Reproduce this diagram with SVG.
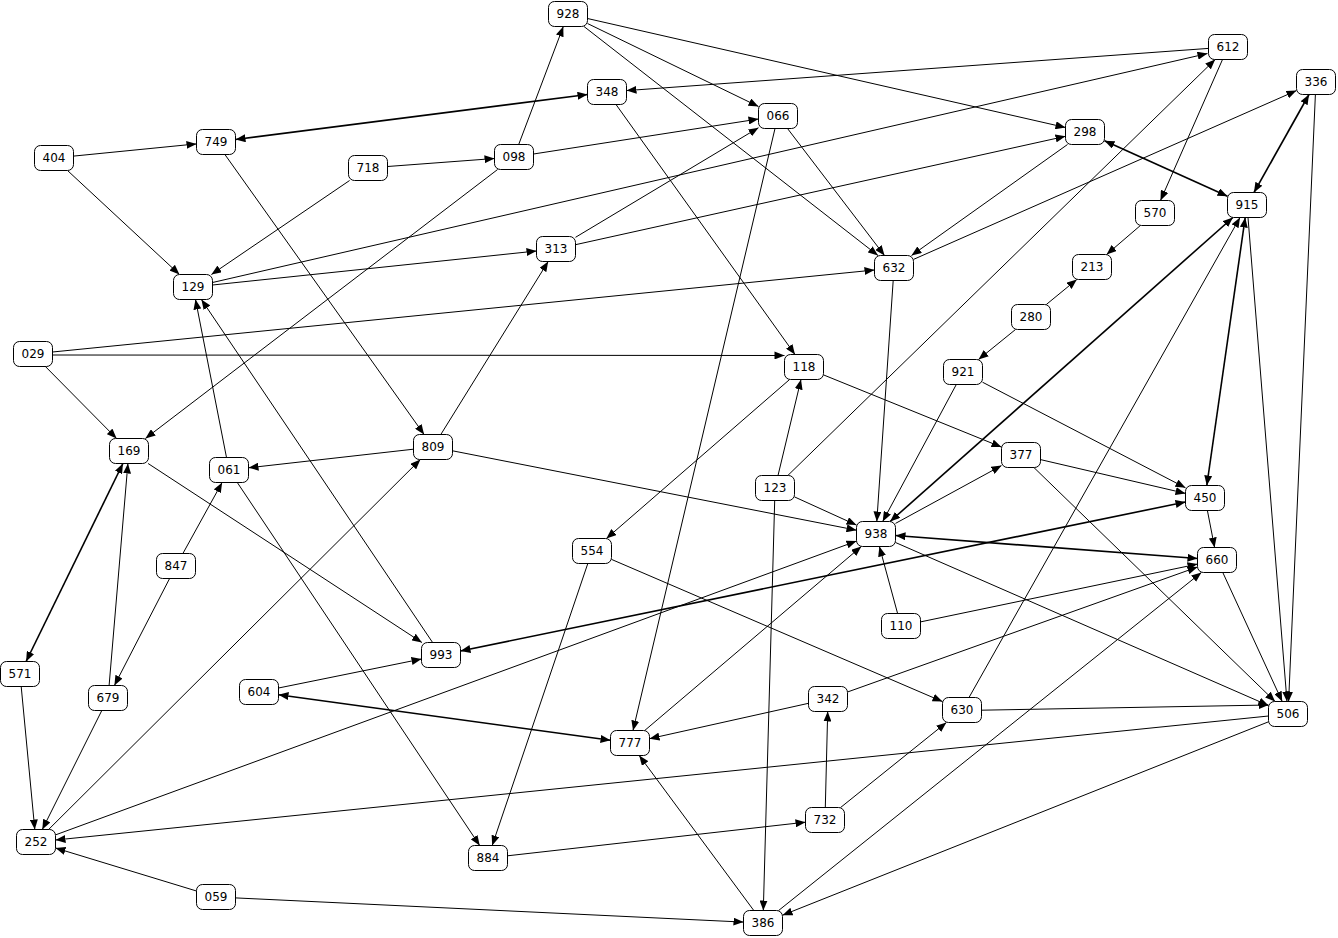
<svg xmlns="http://www.w3.org/2000/svg" width="1338" height="938" viewBox="0 0 1338 938">
<style>
.n rect{fill:#fff;stroke:#000;stroke-width:1}
.n text{font-family:"DejaVu Sans",Verdana,sans-serif;font-size:12px;fill:#000;text-anchor:middle}
.e line{stroke:#000;stroke-width:1;fill:none;marker-end:url(#ah)}
.e line.b{stroke-width:1.6;marker-start:url(#ah)}
</style>
<defs>
<marker id="ah" markerUnits="userSpaceOnUse" markerWidth="10" markerHeight="8" refX="10" refY="4" orient="auto-start-reverse" viewBox="0 0 10 8"><path d="M0,0 L10,4 L0,8 z" fill="#000"/></marker>
</defs>
<rect width="1338" height="938" fill="#fff"/>
<g id="edges" class="e">
<line x1="587.5" y1="23.5" x2="758.5" y2="106.5"/>
<line x1="587.5" y1="18.5" x2="1065.5" y2="127.5"/>
<line x1="584" y1="26.5" x2="878" y2="255.5"/>
<line x1="518.7" y1="144.5" x2="563.3" y2="26.5"/>
<line x1="1208.5" y1="48.4" x2="626.5" y2="90.6"/>
<line x1="1222.5" y1="59.5" x2="1160.5" y2="200.5"/>
<line x1="212.5" y1="282.5" x2="1207.5" y2="53.5"/>
<line x1="787.8" y1="475.5" x2="1215.2" y2="59.5"/>
<line x1="1315.4" y1="94.5" x2="1288.6" y2="701.5"/>
<line x1="913.5" y1="259.4" x2="1296.5" y2="90.6"/>
<line class="b" x1="587.5" y1="94.5" x2="235.5" y2="139.5"/>
<line x1="616" y1="104.5" x2="795" y2="354.5"/>
<line x1="787.5" y1="128.5" x2="884.5" y2="255.5"/>
<line x1="775" y1="128.5" x2="633" y2="730.5"/>
<line x1="533.5" y1="154" x2="758.5" y2="119"/>
<line x1="575.5" y1="237.3" x2="758.5" y2="127.7"/>
<line x1="1067.5" y1="144.5" x2="911.5" y2="255.5"/>
<line x1="575.5" y1="244.7" x2="1065.5" y2="136.3"/>
<line class="b" x1="1104.5" y1="140.8" x2="1227.5" y2="196.2"/>
<line x1="73.5" y1="156.1" x2="196.5" y2="143.9"/>
<line x1="67.5" y1="170.5" x2="179.5" y2="274.5"/>
<line x1="387.5" y1="166.5" x2="494.5" y2="158.5"/>
<line x1="349.6" y1="180.5" x2="211.4" y2="274.5"/>
<line x1="497.6" y1="169.5" x2="145.4" y2="438.5"/>
<line x1="224.9" y1="154.5" x2="424.1" y2="434.5"/>
<line x1="212.5" y1="285" x2="536.5" y2="251"/>
<line x1="52.5" y1="352" x2="874.5" y2="270"/>
<line x1="52.5" y1="355" x2="784.5" y2="355.5"/>
<line x1="45.4" y1="366.5" x2="116.6" y2="438.5"/>
<line x1="1140.4" y1="225.5" x2="1106.6" y2="254.5"/>
<line x1="1046.3" y1="304.5" x2="1076.8" y2="279.5"/>
<line x1="1015.5" y1="329.5" x2="978.5" y2="359.5"/>
<line class="b" x1="1254" y1="192.5" x2="1309" y2="94.5"/>
<line class="b" x1="1245.2" y1="217.5" x2="1206.8" y2="485.5"/>
<line class="b" x1="1232.9" y1="217.5" x2="890.1" y2="521.5"/>
<line x1="1248" y1="217.5" x2="1287" y2="701.5"/>
<line x1="969" y1="697.5" x2="1240" y2="217.5"/>
<line x1="893.2" y1="280.5" x2="876.8" y2="521.5"/>
<line x1="823.5" y1="374.9" x2="1001.5" y2="447.1"/>
<line x1="789.6" y1="379.5" x2="606.4" y2="538.5"/>
<line x1="778" y1="475.5" x2="801" y2="379.5"/>
<line x1="794.5" y1="496.9" x2="856.5" y2="525.1"/>
<line x1="774.7" y1="500.5" x2="763.3" y2="910.5"/>
<line x1="956.3" y1="384.5" x2="882.7" y2="521.5"/>
<line x1="982.5" y1="382.2" x2="1185.5" y2="487.8"/>
<line x1="440.8" y1="434.5" x2="548.2" y2="261.5"/>
<line x1="413.5" y1="449.2" x2="248.5" y2="467.8"/>
<line x1="452.5" y1="450.8" x2="856.5" y2="530.2"/>
<line x1="226.5" y1="457.5" x2="195.5" y2="299.5"/>
<line x1="237.3" y1="482.5" x2="479.7" y2="845.5"/>
<line x1="148.1" y1="463.5" x2="421.9" y2="642.5"/>
<line class="b" x1="122.9" y1="463.5" x2="26.1" y2="661.5"/>
<line x1="109.1" y1="685.5" x2="127.9" y2="463.5"/>
<line x1="182.9" y1="553.5" x2="222.1" y2="482.5"/>
<line x1="169.6" y1="578.5" x2="114.4" y2="685.5"/>
<line x1="432.6" y1="642.5" x2="201.4" y2="299.5"/>
<line x1="1040.5" y1="459.6" x2="1185.5" y2="493.4"/>
<line x1="1033.9" y1="467.5" x2="1275.1" y2="701.5"/>
<line x1="895.5" y1="523.4" x2="1001.5" y2="465.6"/>
<line x1="1207.4" y1="510.5" x2="1214.6" y2="547.5"/>
<line class="b" x1="460.5" y1="651" x2="1185.5" y2="502"/>
<line class="b" x1="895.5" y1="535.5" x2="1197.5" y2="558.5"/>
<line x1="895.5" y1="542.5" x2="1268.5" y2="705.5"/>
<line x1="897.6" y1="613.5" x2="879.4" y2="546.5"/>
<line x1="920.5" y1="621.9" x2="1197.5" y2="564.1"/>
<line x1="1222.8" y1="572.5" x2="1282.2" y2="701.5"/>
<line x1="587.8" y1="563.5" x2="492.2" y2="845.5"/>
<line x1="611.5" y1="559.4" x2="942.5" y2="701.6"/>
<line x1="278.5" y1="688" x2="421.5" y2="659"/>
<line class="b" x1="278.5" y1="694.7" x2="610.5" y2="740.3"/>
<line x1="847.5" y1="692" x2="1197.5" y2="567"/>
<line x1="808.5" y1="703.3" x2="649.5" y2="738.7"/>
<line x1="825.3" y1="807.5" x2="827.7" y2="711.5"/>
<line x1="840.6" y1="807.5" x2="946.4" y2="722.5"/>
<line x1="981.5" y1="710.2" x2="1268.5" y2="705"/>
<line x1="1268.5" y1="716" x2="55.5" y2="840"/>
<line x1="1268.5" y1="721.8" x2="782.5" y2="915.2"/>
<line x1="778.6" y1="910.5" x2="1201.4" y2="572.5"/>
<line x1="753.8" y1="910.5" x2="639.2" y2="755.5"/>
<line x1="644.7" y1="730.5" x2="861.3" y2="546.5"/>
<line x1="48.6" y1="829.5" x2="420.4" y2="459.5"/>
<line x1="55.5" y1="834.9" x2="856.5" y2="541.1"/>
<line x1="21.2" y1="686.5" x2="34.8" y2="829.5"/>
<line x1="101.8" y1="710.5" x2="42.3" y2="829.5"/>
<line x1="196.5" y1="891" x2="55.5" y2="848"/>
<line x1="235.5" y1="897.9" x2="743.5" y2="922.1"/>
<line x1="507.5" y1="855.8" x2="805.5" y2="822.2"/>
</g>
<g id="n928" class="n"><rect x="548.5" y="1.5" width="39" height="25" rx="6"/><text x="568" y="18">928</text></g>
<g id="n612" class="n"><rect x="1208.5" y="34.5" width="39" height="25" rx="6"/><text x="1228" y="51">612</text></g>
<g id="n336" class="n"><rect x="1296.5" y="69.5" width="39" height="25" rx="6"/><text x="1316" y="86">336</text></g>
<g id="n348" class="n"><rect x="587.5" y="79.5" width="39" height="25" rx="6"/><text x="607" y="96">348</text></g>
<g id="n066" class="n"><rect x="758.5" y="103.5" width="39" height="25" rx="6"/><text x="778" y="120">066</text></g>
<g id="n298" class="n"><rect x="1065.5" y="119.5" width="39" height="25" rx="6"/><text x="1085" y="136">298</text></g>
<g id="n749" class="n"><rect x="196.5" y="129.5" width="39" height="25" rx="6"/><text x="216" y="146">749</text></g>
<g id="n404" class="n"><rect x="34.5" y="145.5" width="39" height="25" rx="6"/><text x="54" y="162">404</text></g>
<g id="n718" class="n"><rect x="348.5" y="155.5" width="39" height="25" rx="6"/><text x="368" y="172">718</text></g>
<g id="n098" class="n"><rect x="494.5" y="144.5" width="39" height="25" rx="6"/><text x="514" y="161">098</text></g>
<g id="n915" class="n"><rect x="1227.5" y="192.5" width="39" height="25" rx="6"/><text x="1247" y="209">915</text></g>
<g id="n570" class="n"><rect x="1135.5" y="200.5" width="39" height="25" rx="6"/><text x="1155" y="217">570</text></g>
<g id="n313" class="n"><rect x="536.5" y="236.5" width="39" height="25" rx="6"/><text x="556" y="253">313</text></g>
<g id="n632" class="n"><rect x="874.5" y="255.5" width="39" height="25" rx="6"/><text x="894" y="272">632</text></g>
<g id="n213" class="n"><rect x="1072.5" y="254.5" width="39" height="25" rx="6"/><text x="1092" y="271">213</text></g>
<g id="n129" class="n"><rect x="173.5" y="274.5" width="39" height="25" rx="6"/><text x="193" y="291">129</text></g>
<g id="n280" class="n"><rect x="1011.5" y="304.5" width="39" height="25" rx="6"/><text x="1031" y="321">280</text></g>
<g id="n029" class="n"><rect x="13.5" y="341.5" width="39" height="25" rx="6"/><text x="33" y="358">029</text></g>
<g id="n118" class="n"><rect x="784.5" y="354.5" width="39" height="25" rx="6"/><text x="804" y="371">118</text></g>
<g id="n921" class="n"><rect x="943.5" y="359.5" width="39" height="25" rx="6"/><text x="963" y="376">921</text></g>
<g id="n809" class="n"><rect x="413.5" y="434.5" width="39" height="25" rx="6"/><text x="433" y="451">809</text></g>
<g id="n169" class="n"><rect x="109.5" y="438.5" width="39" height="25" rx="6"/><text x="129" y="455">169</text></g>
<g id="n061" class="n"><rect x="209.5" y="457.5" width="39" height="25" rx="6"/><text x="229" y="474">061</text></g>
<g id="n377" class="n"><rect x="1001.5" y="442.5" width="39" height="25" rx="6"/><text x="1021" y="459">377</text></g>
<g id="n123" class="n"><rect x="755.5" y="475.5" width="39" height="25" rx="6"/><text x="775" y="492">123</text></g>
<g id="n450" class="n"><rect x="1185.5" y="485.5" width="39" height="25" rx="6"/><text x="1205" y="502">450</text></g>
<g id="n938" class="n"><rect x="856.5" y="521.5" width="39" height="25" rx="6"/><text x="876" y="538">938</text></g>
<g id="n554" class="n"><rect x="572.5" y="538.5" width="39" height="25" rx="6"/><text x="592" y="555">554</text></g>
<g id="n660" class="n"><rect x="1197.5" y="547.5" width="39" height="25" rx="6"/><text x="1217" y="564">660</text></g>
<g id="n847" class="n"><rect x="156.5" y="553.5" width="39" height="25" rx="6"/><text x="176" y="570">847</text></g>
<g id="n110" class="n"><rect x="881.5" y="613.5" width="39" height="25" rx="6"/><text x="901" y="630">110</text></g>
<g id="n993" class="n"><rect x="421.5" y="642.5" width="39" height="25" rx="6"/><text x="441" y="659">993</text></g>
<g id="n571" class="n"><rect x="0.5" y="661.5" width="39" height="25" rx="6"/><text x="20" y="678">571</text></g>
<g id="n679" class="n"><rect x="88.5" y="685.5" width="39" height="25" rx="6"/><text x="108" y="702">679</text></g>
<g id="n604" class="n"><rect x="239.5" y="679.5" width="39" height="25" rx="6"/><text x="259" y="696">604</text></g>
<g id="n342" class="n"><rect x="808.5" y="686.5" width="39" height="25" rx="6"/><text x="828" y="703">342</text></g>
<g id="n630" class="n"><rect x="942.5" y="697.5" width="39" height="25" rx="6"/><text x="962" y="714">630</text></g>
<g id="n506" class="n"><rect x="1268.5" y="701.5" width="39" height="25" rx="6"/><text x="1288" y="718">506</text></g>
<g id="n777" class="n"><rect x="610.5" y="730.5" width="39" height="25" rx="6"/><text x="630" y="747">777</text></g>
<g id="n732" class="n"><rect x="805.5" y="807.5" width="39" height="25" rx="6"/><text x="825" y="824">732</text></g>
<g id="n252" class="n"><rect x="16.5" y="829.5" width="39" height="25" rx="6"/><text x="36" y="846">252</text></g>
<g id="n884" class="n"><rect x="468.5" y="845.5" width="39" height="25" rx="6"/><text x="488" y="862">884</text></g>
<g id="n059" class="n"><rect x="196.5" y="884.5" width="39" height="25" rx="6"/><text x="216" y="901">059</text></g>
<g id="n386" class="n"><rect x="743.5" y="910.5" width="39" height="25" rx="6"/><text x="763" y="927">386</text></g>
</svg>
